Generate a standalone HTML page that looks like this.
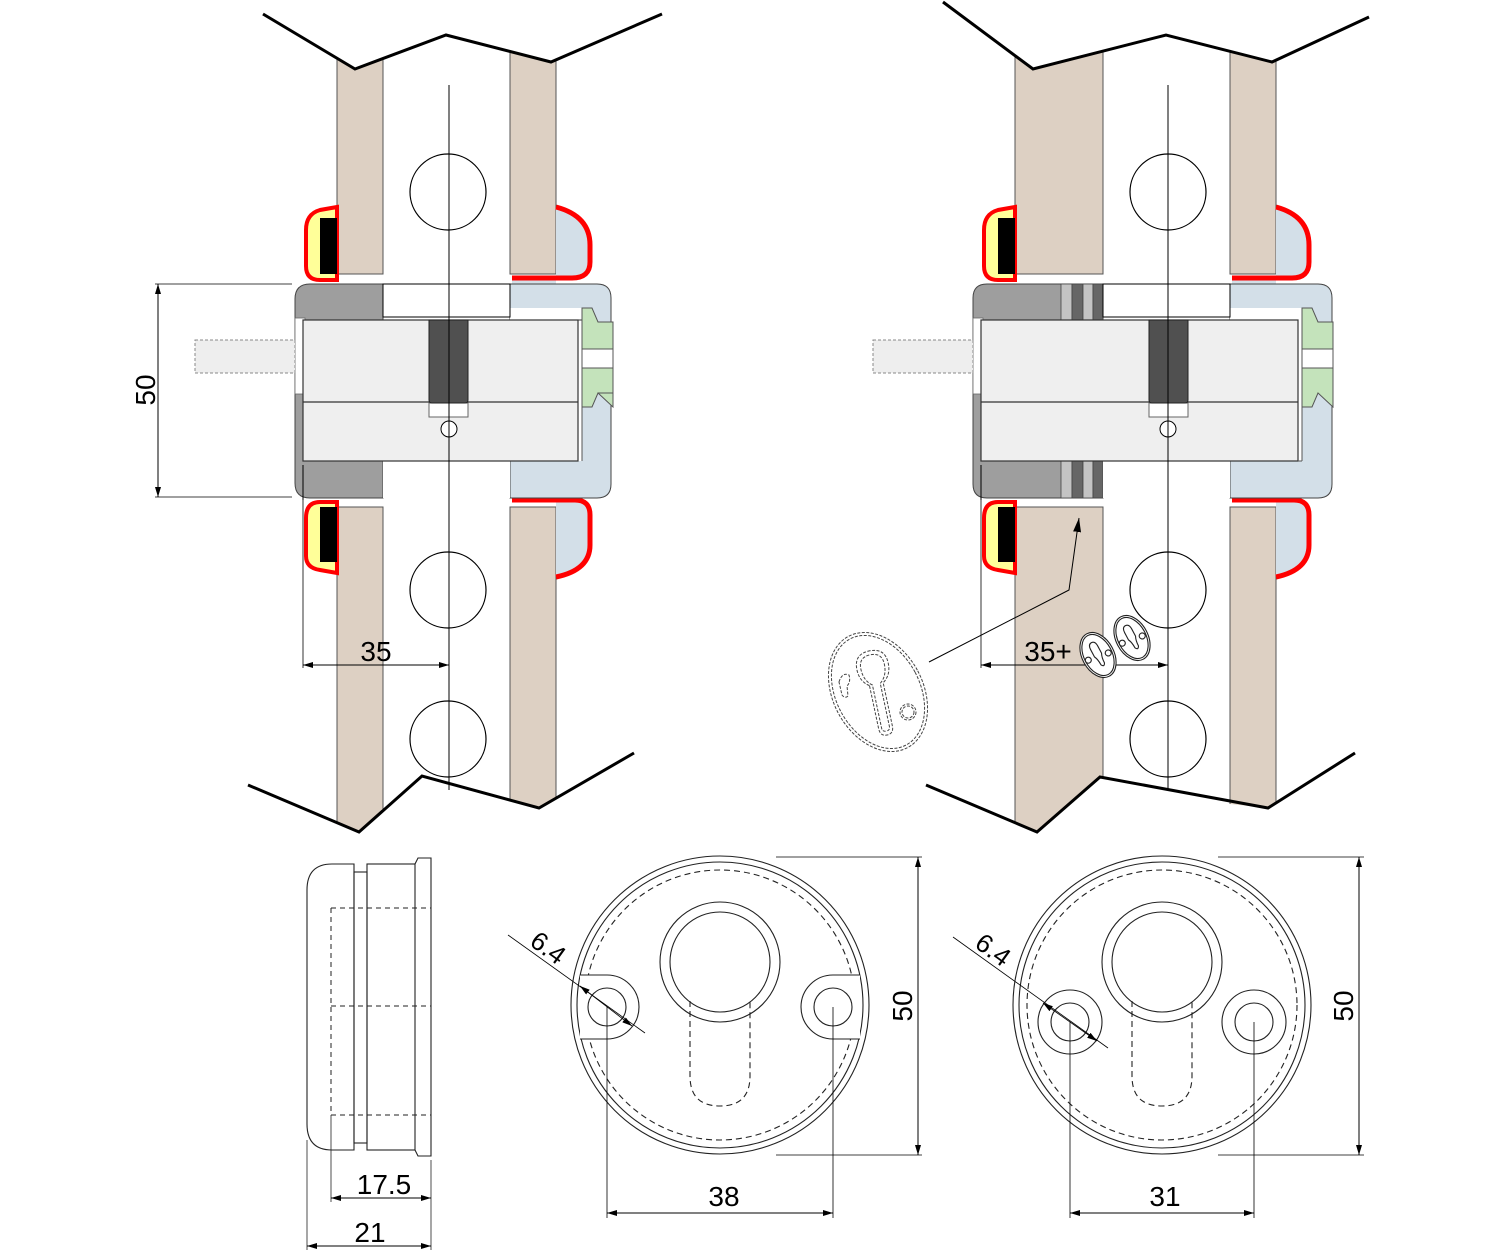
<!DOCTYPE html>
<html><head><meta charset="utf-8"><style>
html,body{margin:0;padding:0;background:#fff;}
svg{display:block;}
text{font-family:"Liberation Sans",sans-serif;fill:#000;}
</style></head><body>
<svg width="1500" height="1253" viewBox="0 0 1500 1253" xmlns="http://www.w3.org/2000/svg">
<defs>
<marker id="ar" viewBox="0 0 10 6" refX="10" refY="3" markerWidth="10" markerHeight="6" orient="auto-start-reverse" markerUnits="userSpaceOnUse"><path d="M0,0 L10,3 L0,6 z" fill="#000"/></marker>
<marker id="ar2" viewBox="0 0 14 8" refX="14" refY="4" markerWidth="14" markerHeight="8" orient="auto-start-reverse" markerUnits="userSpaceOnUse"><path d="M0,0 L14,4 L0,8 z" fill="#000"/></marker>
</defs>

<!-- ================= LEFT DOOR ================= -->
<g>
<rect x="337" y="40" width="46" height="234" fill="#ddd0c3" stroke="#555" stroke-width="1"/>
<rect x="510" y="40" width="46" height="234" fill="#ddd0c3" stroke="#555" stroke-width="1"/>
<rect x="337" y="507" width="46" height="330" fill="#ddd0c3" stroke="#555" stroke-width="1"/>
<rect x="510" y="507" width="46" height="330" fill="#ddd0c3" stroke="#555" stroke-width="1"/>
<polygon points="240,0 700,0 700,14 662,14 551,62 446,35 355,69 263,14 240,14" fill="#fff"/>
<polygon points="240,785 248,785 359,832 422,776 539,808 634,753 700,753 700,850 240,850" fill="#fff"/>
<polyline points="263,14 355,69 446,35 551,62 662,14" fill="none" stroke="#000" stroke-width="3"/>
<polyline points="248,785 359,832 422,776 539,808 634,753" fill="none" stroke="#000" stroke-width="3"/>
<circle cx="448" cy="192" r="38" fill="#fff" stroke="#000" stroke-width="1.2"/>
<circle cx="448" cy="590" r="38" fill="#fff" stroke="#000" stroke-width="1.2"/>
<circle cx="448" cy="739" r="38" fill="#fff" stroke="#000" stroke-width="1.2"/>
<path d="M337,207 L320,210 Q306,214 306,230 L306,266 Q306,280 320,280 L337,280 Z" fill="#ffff99" stroke="#f00" stroke-width="4"/>
<rect x="320" y="218" width="17" height="56" fill="#000"/>
<path d="M337,502 L320,502 Q306,502 306,518 L306,556 Q306,568 320,570 L337,573 Z" fill="#ffff99" stroke="#f00" stroke-width="4"/>
<rect x="320" y="507" width="17" height="55" fill="#000"/>
<path d="M556,207 Q590,216 590,245 L590,262 Q590,278 572,278 L512,278 L512,284 L556,284 Z" fill="#d3dfe8" stroke="none"/>
<path d="M556,207 Q590,216 590,245 L590,262 Q590,278 572,278 L512,278" fill="none" stroke="#f00" stroke-width="5"/>
<path d="M556,577 Q590,570 590,545 L590,515 Q590,500 575,500 L512,500 L512,497 L556,497 Z" fill="#d3dfe8" stroke="none"/>
<path d="M556,577 Q590,570 590,545 L590,515 Q590,500 575,500 L512,500" fill="none" stroke="#f00" stroke-width="5"/>
<path d="M383,284 L310,284 Q295,284 295,299 L295,483 Q295,498 310,498 L383,498 Z" fill="#9e9e9e" stroke="#444" stroke-width="1"/>
<path d="M510,284 L597,284 Q611,284 611,298 L611,484 Q611,498 597,498 L510,498 Z" fill="#d3dfe8" stroke="#444" stroke-width="1"/>
<rect x="510" y="308" width="72" height="153" fill="#fff"/>
<rect x="383" y="284" width="127" height="33" fill="#fff" stroke="#000" stroke-width="1"/>
<rect x="383" y="461" width="127" height="37" fill="#fff"/>
<rect x="295" y="318" width="10" height="76" fill="#fff" stroke="#666" stroke-width="0.8"/>
<line x1="303" y1="465" x2="303" y2="500" stroke="#000"/>
<rect x="303" y="320" width="275" height="141" fill="#efefef" stroke="#333" stroke-width="1.2"/>
<line x1="303" y1="402" x2="578" y2="402" stroke="#333" stroke-width="1.2"/>
<line x1="578" y1="320" x2="582" y2="320" stroke="#333"/>
<line x1="582" y1="320" x2="582" y2="461" stroke="#555"/>
<rect x="429" y="403" width="39" height="14" fill="#fff" stroke="#666"/>
<path d="M429,320 L468,320 L468,400 Q468,403 465,403 L432,403 Q429,403 429,400 Z" fill="#505050" stroke="#222"/>
<circle cx="449" cy="429" r="8" fill="#fff" stroke="#000"/>
<path d="M582,308 L592,308 L598,322 L613,322 L613,407 L598,393 L592,407 L582,407 Z" fill="#c4e3bb" stroke="#555" stroke-width="1"/>
<path d="M598,393 L613,393" stroke="#555"/>
<rect x="582" y="349" width="31" height="19" fill="#fff" stroke="#555" stroke-width="1"/>
<rect x="195" y="340" width="100" height="33" fill="#eee" stroke="#888" stroke-dasharray="3,2"/>
<line x1="449" y1="85" x2="449" y2="790" stroke="#000" stroke-width="1"/>
<line x1="155" y1="284" x2="292" y2="284" stroke="#000" stroke-width="0.8"/>
<line x1="155" y1="497" x2="292" y2="497" stroke="#000" stroke-width="0.8"/>
<line x1="158" y1="284" x2="158" y2="497" stroke="#000" marker-start="url(#ar)" marker-end="url(#ar)"/>
<text x="0" y="0" font-size="28" text-anchor="middle" transform="translate(155,390) rotate(-90)">50</text>
<line x1="303" y1="498" x2="303" y2="668" stroke="#000" stroke-width="0.8"/>
<line x1="303" y1="665" x2="449" y2="665" stroke="#000" marker-start="url(#ar)" marker-end="url(#ar)"/>
<text x="376" y="661" font-size="28" text-anchor="middle">35</text>
</g>

<!-- ================= RIGHT DOOR ================= -->
<g>
<rect x="1015" y="40" width="88" height="234" fill="#ddd0c3" stroke="#555" stroke-width="1"/>
<rect x="1230" y="40" width="46" height="234" fill="#ddd0c3" stroke="#555" stroke-width="1"/>
<rect x="1015" y="507" width="88" height="330" fill="#ddd0c3" stroke="#555" stroke-width="1"/>
<rect x="1230" y="507" width="46" height="330" fill="#ddd0c3" stroke="#555" stroke-width="1"/>
<polygon points="920,0 1400,0 1400,17 1369,17 1272,62 1166,35 1033,69 943,2 920,2" fill="#fff"/>
<polygon points="920,785 926,785 1037,832 1100,777 1230,804 1268,808 1355,753 1400,753 1400,850 920,850" fill="#fff"/>
<polyline points="943,2 1033,69 1166,35 1272,62 1369,17" fill="none" stroke="#000" stroke-width="3"/>
<polyline points="926,785 1037,832 1100,777 1268,808 1355,753" fill="none" stroke="#000" stroke-width="3"/>
<circle cx="1168" cy="192" r="38" fill="#fff" stroke="#000" stroke-width="1.2"/>
<circle cx="1168" cy="590" r="38" fill="#fff" stroke="#000" stroke-width="1.2"/>
<circle cx="1168" cy="739" r="38" fill="#fff" stroke="#000" stroke-width="1.2"/>
<path d="M1015,207 L998,210 Q984,214 984,230 L984,266 Q984,280 998,280 L1015,280 Z" fill="#ffff99" stroke="#f00" stroke-width="4"/>
<rect x="998" y="218" width="17" height="56" fill="#000"/>
<path d="M1015,502 L998,502 Q984,502 984,518 L984,556 Q984,568 998,570 L1015,573 Z" fill="#ffff99" stroke="#f00" stroke-width="4"/>
<rect x="998" y="507" width="17" height="55" fill="#000"/>
<path d="M1276,207 Q1309,216 1309,245 L1309,262 Q1309,278 1292,278 L1232,278 L1232,284 L1276,284 Z" fill="#d3dfe8"/>
<path d="M1276,207 Q1309,216 1309,245 L1309,262 Q1309,278 1292,278 L1232,278" fill="none" stroke="#f00" stroke-width="5"/>
<path d="M1276,577 Q1309,570 1309,545 L1309,515 Q1309,500 1294,500 L1232,500 L1232,497 L1276,497 Z" fill="#d3dfe8"/>
<path d="M1276,577 Q1309,570 1309,545 L1309,515 Q1309,500 1294,500 L1232,500" fill="none" stroke="#f00" stroke-width="5"/>
<path d="M1103,284 L987,284 Q973,284 973,298 L973,484 Q973,498 987,498 L1103,498 Z" fill="#9e9e9e" stroke="#444" stroke-width="1"/>
<g stroke="#444" stroke-width="0.8">
<rect x="1061" y="284" width="11" height="36" fill="#c4c4c4"/><rect x="1072" y="284" width="11" height="36" fill="#666"/>
<rect x="1083" y="284" width="10" height="36" fill="#c4c4c4"/><rect x="1093" y="284" width="10" height="36" fill="#666"/>
<rect x="1061" y="461" width="11" height="37" fill="#c4c4c4"/><rect x="1072" y="461" width="11" height="37" fill="#666"/>
<rect x="1083" y="461" width="10" height="37" fill="#c4c4c4"/><rect x="1093" y="461" width="10" height="37" fill="#666"/>
</g>
<path d="M1230,284 L1318,284 Q1332,284 1332,298 L1332,484 Q1332,498 1318,498 L1230,498 Z" fill="#d3dfe8" stroke="#444" stroke-width="1"/>
<rect x="1230" y="308" width="72" height="153" fill="#fff"/>
<rect x="1103" y="284" width="127" height="33" fill="#fff" stroke="#000" stroke-width="1"/>
<rect x="1103" y="461" width="127" height="37" fill="#fff"/>
<rect x="973" y="318" width="10" height="76" fill="#fff" stroke="#666" stroke-width="0.8"/>
<line x1="981" y1="465" x2="981" y2="500" stroke="#000"/>
<rect x="981" y="320" width="317" height="141" fill="#efefef" stroke="#333" stroke-width="1.2"/>
<line x1="981" y1="402" x2="1298" y2="402" stroke="#333" stroke-width="1.2"/>
<line x1="1302" y1="320" x2="1302" y2="461" stroke="#555"/>
<line x1="1298" y1="461" x2="1302" y2="461" stroke="#555"/>
<rect x="1149" y="403" width="39" height="14" fill="#fff" stroke="#666"/>
<path d="M1149,320 L1188,320 L1188,400 Q1188,403 1185,403 L1152,403 Q1149,403 1149,400 Z" fill="#505050" stroke="#222"/>
<circle cx="1168" cy="429" r="8" fill="#fff" stroke="#000"/>
<path d="M1302,308 L1312,308 L1318,322 L1333,322 L1333,407 L1318,393 L1312,407 L1302,407 Z" fill="#c4e3bb" stroke="#555" stroke-width="1"/>
<rect x="1302" y="349" width="31" height="19" fill="#fff" stroke="#555" stroke-width="1"/>
<rect x="873" y="340" width="100" height="33" fill="#eee" stroke="#888" stroke-dasharray="3,2"/>
<line x1="1168" y1="85" x2="1168" y2="790" stroke="#000" stroke-width="1"/>
<line x1="981" y1="498" x2="981" y2="668" stroke="#000" stroke-width="0.8"/>
<line x1="981" y1="665" x2="1168" y2="665" stroke="#000" marker-start="url(#ar)" marker-end="url(#ar)"/>
<text x="1048" y="661" font-size="28" text-anchor="middle">35+</text>
<polyline points="929,662 1069,590 1079,518" fill="none" stroke="#000" stroke-width="1" marker-end="url(#ar2)"/>
<!-- big dashed escutcheon -->
<g transform="translate(878,692)" fill="none" stroke="#444" stroke-width="1" stroke-dasharray="3,1.5">
<ellipse cx="0" cy="0" rx="45" ry="63" transform="rotate(-28)"/>
<ellipse cx="0" cy="0" rx="42" ry="60" transform="rotate(-28)"/>
<g transform="rotate(-12)">
<path d="M-7,-8 Q-16,-14 -16,-26 Q-16,-42 0,-42 Q16,-42 16,-26 Q16,-14 7,-8 L7,36 Q7,44 0,44 Q-7,44 -7,36 Z"/>
<path d="M-4,-8 Q-12,-14 -12,-26 Q-12,-38 0,-38 Q12,-38 12,-26 Q12,-14 4,-8 L4,36 Q4,40 0,40 Q-4,40 -4,36 Z"/>
</g>
<path d="M-39,-10 Q-36,-20 -29,-17 Q-27,-10 -31,-6 L-30,4 Q-33,7 -36,3 Z"/>
<circle cx="30" cy="20" r="8"/>
<circle cx="30" cy="20" r="6"/>
</g>
<g transform="translate(1098,655) rotate(-28)" fill="#fff" stroke="#222" stroke-width="1.1">
<ellipse cx="0" cy="0" rx="16" ry="24"/>
<ellipse cx="0" cy="0" rx="14" ry="22" fill="none"/>
<path d="M-4,-8 Q-4,-14 0,-14 Q4,-14 4,-8 L4,0 Q2,4 2,10 Q0,14 -2,10 Q-2,4 -4,0 Z" fill="none"/>
<circle cx="-11" cy="0" r="3" fill="none"/>
<circle cx="10" cy="3" r="3" fill="none"/>
</g>
<g transform="translate(1132,638) rotate(-28)" fill="#fff" stroke="#222" stroke-width="1.1">
<ellipse cx="0" cy="0" rx="16" ry="24"/>
<ellipse cx="0" cy="0" rx="14" ry="22" fill="none"/>
<path d="M-4,-8 Q-4,-14 0,-14 Q4,-14 4,-8 L4,0 Q2,4 2,10 Q0,14 -2,10 Q-2,4 -4,0 Z" fill="none"/>
<circle cx="-11" cy="0" r="3" fill="none"/>
<circle cx="10" cy="3" r="3" fill="none"/>
</g>
</g>

<!-- ================= SIDE VIEW ================= -->
<g fill="none" stroke="#222" stroke-width="1.1">
<path d="M354,864 L332,864 Q307,864 307,890 L307,1124 Q307,1150 332,1150 L354,1150 Z"/>
<rect x="354" y="872" width="13" height="271"/>
<rect x="367" y="864" width="48" height="286"/>
<path d="M415,864 L418,858 L431,858 L431,1156 L418,1156 L415,1150"/>
<g stroke-dasharray="5,4" stroke-width="1">
<line x1="331" y1="908" x2="431" y2="908"/>
<line x1="331" y1="1006" x2="431" y2="1006"/>
<line x1="331" y1="1115" x2="431" y2="1115"/>
<line x1="331" y1="908" x2="331" y2="1115"/>
<line x1="431" y1="908" x2="431" y2="1115"/>
</g>
<g stroke-width="0.8">
<line x1="307" y1="1140" x2="307" y2="1250"/>
<line x1="331" y1="1115" x2="331" y2="1202"/>
<line x1="431" y1="1160" x2="431" y2="1250"/>
</g>
</g>
<line x1="331" y1="1198" x2="431" y2="1198" stroke="#000" marker-start="url(#ar)" marker-end="url(#ar)"/>
<line x1="307" y1="1246" x2="431" y2="1246" stroke="#000" marker-start="url(#ar)" marker-end="url(#ar)"/>
<text x="384" y="1194" font-size="28" text-anchor="middle">17.5</text>
<text x="370" y="1242" font-size="28" text-anchor="middle">21</text>

<!-- ================= ESCUTCHEON 1 ================= -->
<g fill="none" stroke="#222" stroke-width="1.1">
<circle cx="720" cy="1005" r="149"/>
<circle cx="720" cy="1005" r="143"/>
<circle cx="720" cy="1005" r="135" stroke-dasharray="6,4"/>
<circle cx="720" cy="962" r="60"/>
<circle cx="720" cy="962" r="50"/>
<path d="M690,1001 L690,1076 Q690,1106 720,1106 Q750,1106 750,1076 L750,1001" stroke-dasharray="6,4"/>
<path d="M580,975 L607,975 A32,32 0 0 1 607,1039 L580,1039" fill="#fff"/>
<circle cx="607" cy="1007" r="19"/>
<path d="M860,975 L833,975 A32,32 0 0 0 833,1039 L860,1039" fill="#fff"/>
<circle cx="833" cy="1007" r="19"/>
</g>
<g stroke="#000" stroke-width="0.8">
<line x1="776" y1="857" x2="922" y2="857"/>
<line x1="776" y1="1155" x2="922" y2="1155"/>
<line x1="607" y1="1007" x2="607" y2="1218"/>
<line x1="833" y1="1007" x2="833" y2="1218"/>
<line x1="508" y1="935" x2="645" y2="1033"/>
</g>
<line x1="918" y1="857" x2="918" y2="1155" stroke="#000" marker-start="url(#ar)" marker-end="url(#ar)"/>
<line x1="607" y1="1213" x2="833" y2="1213" stroke="#000" marker-start="url(#ar)" marker-end="url(#ar)"/>
<line x1="580" y1="986" x2="632" y2="1026" stroke="#000" stroke-width="0.8" marker-start="url(#ar)" marker-end="url(#ar)"/>
<text x="0" y="0" font-size="28" text-anchor="middle" transform="translate(912,1006) rotate(-90)">50</text>
<text x="724" y="1206" font-size="28" text-anchor="middle">38</text>
<text x="0" y="0" font-size="26" text-anchor="middle" transform="translate(543,955) rotate(36)">6.4</text>

<!-- ================= ESCUTCHEON 2 ================= -->
<g fill="none" stroke="#222" stroke-width="1.1">
<circle cx="1162" cy="1005" r="149"/>
<circle cx="1162" cy="1005" r="143"/>
<circle cx="1162" cy="1005" r="135" stroke-dasharray="6,4"/>
<circle cx="1162" cy="962" r="60"/>
<circle cx="1162" cy="962" r="50"/>
<path d="M1132,1001 L1132,1076 Q1132,1106 1162,1106 Q1192,1106 1192,1076 L1192,1001" stroke-dasharray="6,4"/>
<circle cx="1070" cy="1022" r="32" fill="#fff"/>
<circle cx="1070" cy="1022" r="19"/>
<circle cx="1254" cy="1022" r="32" fill="#fff"/>
<circle cx="1254" cy="1022" r="19"/>
</g>
<g stroke="#000" stroke-width="0.8">
<line x1="1218" y1="857" x2="1364" y2="857"/>
<line x1="1218" y1="1155" x2="1364" y2="1155"/>
<line x1="1070" y1="1022" x2="1070" y2="1218"/>
<line x1="1254" y1="1022" x2="1254" y2="1218"/>
<line x1="953" y1="937" x2="1108" y2="1048"/>
</g>
<line x1="1359" y1="857" x2="1359" y2="1155" stroke="#000" marker-start="url(#ar)" marker-end="url(#ar)"/>
<line x1="1070" y1="1213" x2="1254" y2="1213" stroke="#000" marker-start="url(#ar)" marker-end="url(#ar)"/>
<line x1="1043" y1="1003" x2="1097" y2="1041" stroke="#000" stroke-width="0.8" marker-start="url(#ar)" marker-end="url(#ar)"/>
<text x="0" y="0" font-size="28" text-anchor="middle" transform="translate(1353,1006) rotate(-90)">50</text>
<text x="1165" y="1206" font-size="28" text-anchor="middle">31</text>
<text x="0" y="0" font-size="26" text-anchor="middle" transform="translate(988,957) rotate(36)">6.4</text>
</svg>
</body></html>
